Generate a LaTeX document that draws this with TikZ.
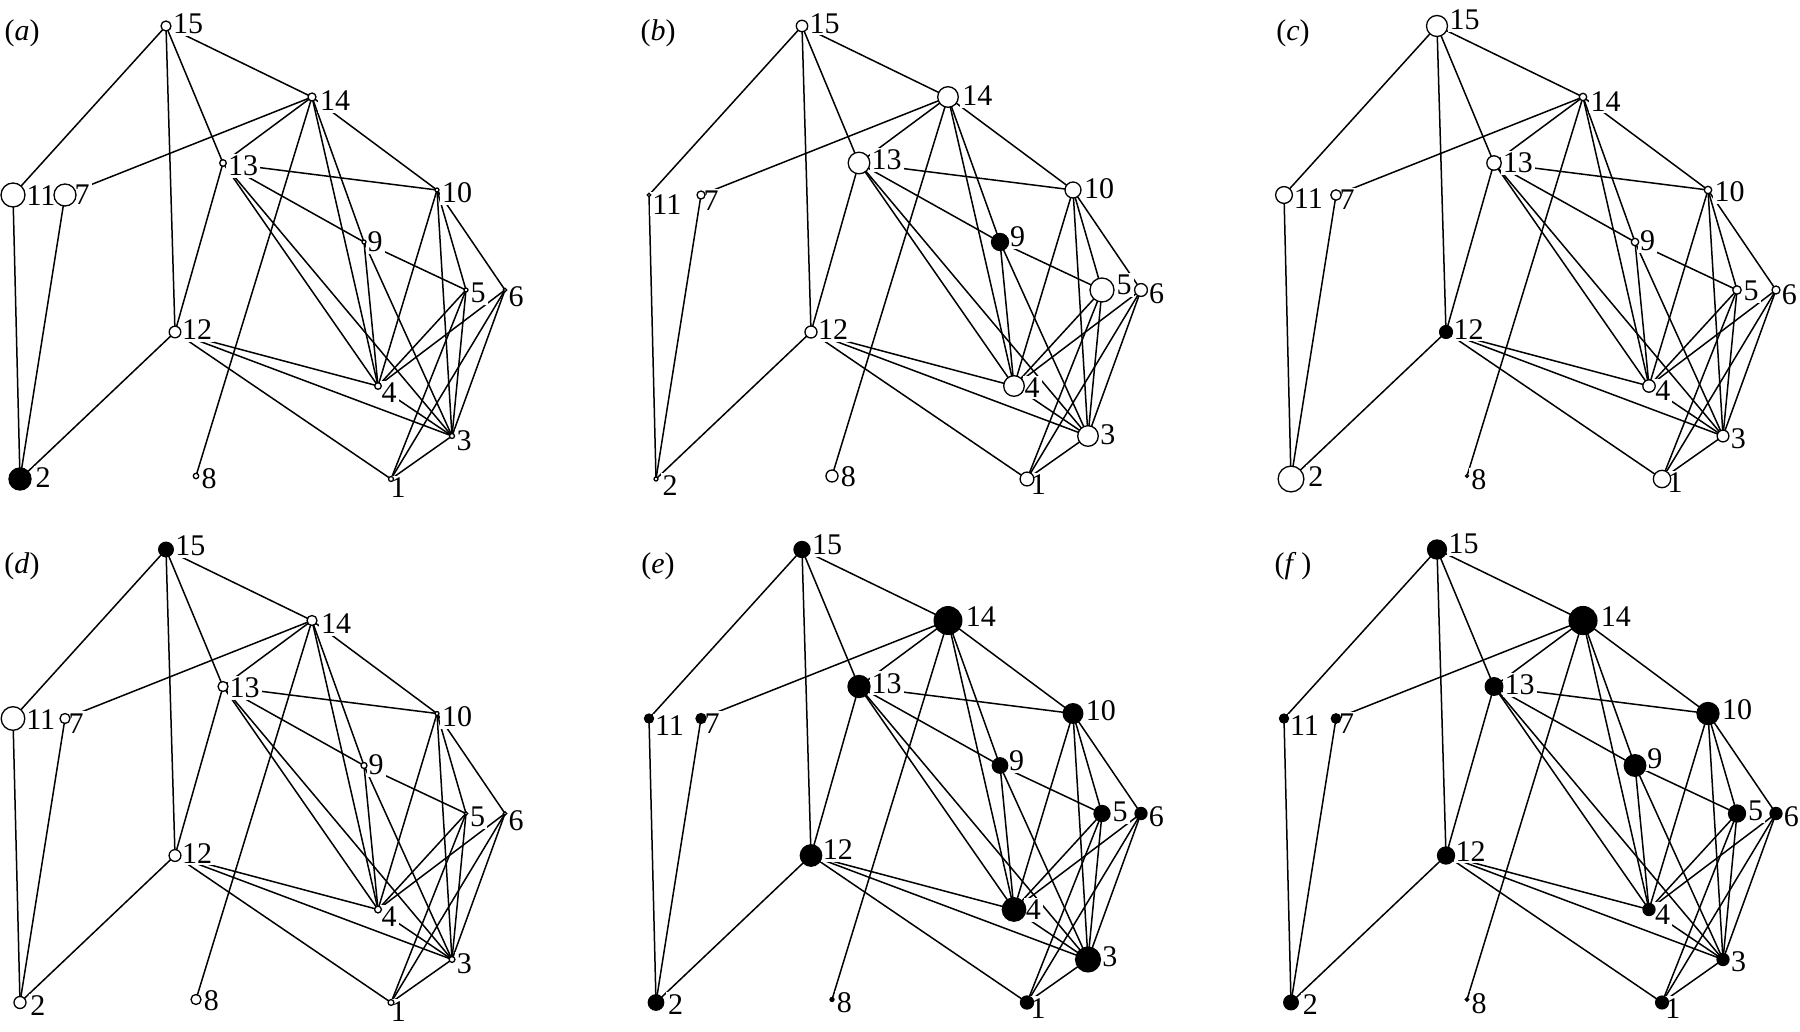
\documentclass[tikz,border=0pt]{standalone}
\usepackage{fontspec}
\setmainfont{Liberation Serif}
\pgfdeclarelayer{background}
\pgfsetlayers{background,main}
\begin{document}
\begin{tikzpicture}[x=1pt,y=-1pt,
  edge/.style={line width=1.5pt,line cap=round},
  vtx/.style={circle,draw=black,line width=1.3pt,inner sep=0pt,outer sep=0pt},
  lab/.style={font=\fontsize{30}{30}\selectfont,inner sep=2pt,fill=white},
  plab/.style={font=\fontsize{30}{30}\selectfont,inner sep=0pt}]
\useasboundingbox (0,0) rectangle (1800,1032);
\def\PX{{391,20,452,378,466,505,65,196,364,437,13,175,223,312,166}}
\def\PY{{479,479,436,386,290,290,195,476,242,190,195,332,163,97,26}}
\def\LX{{398,43,464,389,478,516,82,209,375,457,41,197,243,335,188}}
\def\LY{{488,478,441,393,293,297,195,479,242,193,196,330,166,101,24}}
\def\RA{{2.5,11,2.5,3.3,2,1.7,11,2.7,2,2,12,5.8,3.3,4,5}}
\def\edgelist{15/11,15/12,15/13,15/14,14/7,14/13,14/8,14/4,14/9,14/10,13/10,13/9,13/4,13/3,13/12,10/4,10/3,10/5,10/6,9/5,9/4,9/3,5/4,5/3,5/1,6/4,6/3,6/1,4/3,12/2,12/4,12/3,12/1,11/2,7/2,3/1}
\newcommand\drawpanel[6]{%
\begin{scope}[shift={(#2,#3)}]
  \foreach \nn/\rr/\ff in {#4} {%
    \pgfmathsetmacro\dR{\rr-\RA[\nn-1]}%
    \pgfmathsetmacro\lX{\LX[\nn-1]+\dR}%
    \pgfmathsetmacro\lY{\LY[\nn-1]-0.8*\dR}%
    \node[lab] (#1l\nn) at (\lX,\lY) {\nn};}
  \foreach \nn/\rr/\ff in {#4} {%
    \pgfmathsetmacro\pX{\PX[\nn-1]}%
    \pgfmathsetmacro\pY{\PY[\nn-1]}%
    \node[vtx,minimum size=2*\rr,fill=\ff] (#1n\nn) at (\pX,\pY) {};}
  \begin{pgfonlayer}{background}
    \foreach \uu/\vv in \edgelist {\draw[edge] (#1n\uu) -- (#1n\vv);}
  \end{pgfonlayer}
  \node[plab] (#1t) at (22,#6) {#5};
\end{scope}}
\drawpanel{a}{0}{0}{1/2.5/white,2/11/black,3/2.5/white,4/3.3/white,5/2/white,6/1.7/white,7/11/white,8/2.7/white,9/2/white,10/2/white,11/12/white,12/5.8/white,13/3.3/white,14/4/white,15/5/white}{(\textit{a})}{33}
\drawpanel{b}{636}{0}{1/6.9/white,2/2/white,3/10.3/white,4/10.3/white,5/12/white,6/6.4/white,7/4/white,8/6/white,9/8.5/black,10/8/white,11/1.8/white,12/6/white,13/10.8/white,14/10.3/white,15/5.7/white}{(\textit{b})}{33}
\drawpanel{c}{1271}{0}{1/8.7/white,2/12.9/white,3/5.9/white,4/6.2/white,5/4.2/white,6/4/white,7/5.2/white,8/1.5/white,9/3.7/white,10/3.7/white,11/8.4/white,12/6.4/black,13/7.2/white,14/3.7/white,15/10.5/white}{(\textit{c})}{33}
\drawpanel{d}{0}{523.5}{1/2.9/white,2/6/white,3/2.9/white,4/3.4/white,5/1.7/white,6/1.7/white,7/5/white,8/5/white,9/3/white,10/2/white,11/11.8/white,12/5.9/white,13/5/white,14/5/white,15/7.3/black}{(\textit{d})}{43}
\drawpanel{e}{636}{523.5}{1/6.5/black,2/7.7/black,3/12.4/black,4/11.7/black,5/8/black,6/6/black,7/5/black,8/2/black,9/7.7/black,10/9.8/black,11/4.5/black,12/10.7/black,13/11/black,14/13.8/black,15/8/black}{(\textit{e})}{43}
\drawpanel{f}{1271}{523.5}{1/6.4/black,2/7.3/black,3/6/black,4/6/black,5/8.5/black,6/6/black,7/4.7/black,8/1.7/black,9/10.8/black,10/11/black,11/4.5/black,12/8.5/black,13/8.8/black,14/13.9/black,15/9.5/black}{(\textit{f}\,)}{43}
\end{tikzpicture}
\end{document}
